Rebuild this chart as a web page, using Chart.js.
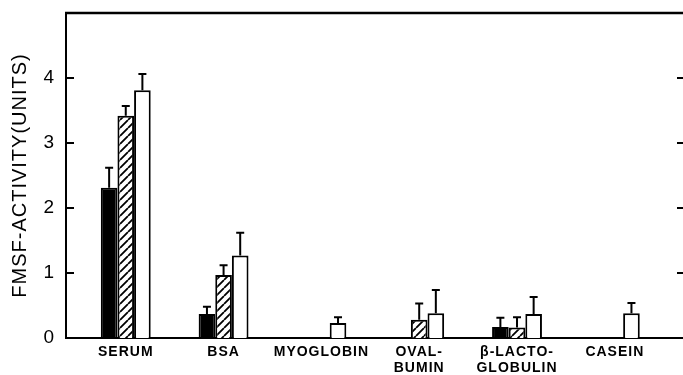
<!DOCTYPE html>
<html>
<head>
<meta charset="utf-8">
<script src="https://cdn.jsdelivr.net/npm/chart.js@4/dist/chart.umd.min.js"></script>
<style>
  html, body { margin: 0; padding: 0; background: #fff; }
  #wrap { width: 683px; height: 375px; }
</style>
</head>
<body>
<div id="wrap"><canvas id="grafico"></canvas></div>
<script>
const categorias = ['SERUM', 'BSA', 'MYOGLOBIN', ['OVAL-', 'BUMIN'], ['β-LACTO-', 'GLOBULIN'], 'CASEIN'];
const valoresPretos = [2.31, 0.37, null, null, 0.17, null];
const errosPretos = [0.31, 0.11, null, null, 0.14, null];
const valoresListrados = [3.42, 0.97, null, 0.28, 0.16, null];
const errosListrados = [0.15, 0.15, null, 0.25, 0.16, null];
const valoresBrancos = [3.81, 1.27, 0.23, 0.38, 0.37, 0.38];
const errosBrancos = [0.25, 0.35, 0.09, 0.36, 0.26, 0.16];
const ticksY = [0, 1, 2, 3, 4, 5];

// layout do eixo x (centro das categorias)
const xMin = -0.611;
const xMax = 5.697;

function hachura() {
    const s = 8;
    const c = document.createElement('canvas');
    c.width = s; c.height = s;
    const g = c.getContext('2d');
    g.fillStyle = '#fff';
    g.fillRect(0, 0, s, s);
    g.strokeStyle = '#000';
    g.lineWidth = 1.8;
    g.beginPath();
    [-s, 0, s].forEach(o => { g.moveTo(o, s); g.lineTo(o + s, 0); });
    g.stroke();
    return g.createPattern(c, 'repeat');
}

const pontos = arr => arr.map((v, i) => ({ x: i, y: v }));

const espacamento = {
    id: 'espacamento',
    beforeUpdate(chart) { chart.ctx.letterSpacing = '1px'; },
    beforeLayout(chart) { chart.ctx.letterSpacing = '1px'; },
    beforeDraw(chart) { chart.ctx.letterSpacing = '1px'; }
};

const barrasErro = {
    id: 'barrasErro',
    afterDatasetsDraw(chart) {
        const ctx = chart.ctx;
        const y = chart.scales.y;
        ctx.save();
        ctx.strokeStyle = '#000';
        ctx.lineWidth = 2;
        chart.data.datasets.forEach((ds, i) => {
            const meta = chart.getDatasetMeta(i);
            meta.data.forEach((bar, j) => {
                const v = ds.data[j].y;
                const e = ds.erros[j];
                if (v == null || e == null) return;
                const yTopo = y.getPixelForValue(v + e);
                ctx.beginPath();
                ctx.moveTo(bar.x, bar.y);
                ctx.lineTo(bar.x, yTopo);
                ctx.moveTo(bar.x - 4, yTopo);
                ctx.lineTo(bar.x + 4, yTopo);
                ctx.stroke();
            });
        });
        ctx.restore();
    }
};

// linha de cima e marcas internas dos dois lados
const moldura = {
    id: 'moldura',
    afterDraw(chart) {
        const { ctx, chartArea } = chart;
        const y = chart.scales.y;
        ctx.save();
        ctx.strokeStyle = '#000';
        ctx.lineWidth = 2.5;
        ctx.beginPath();
        ctx.moveTo(chartArea.left - 1, chartArea.top);
        ctx.lineTo(chartArea.right, chartArea.top);
        ctx.stroke();
        ctx.lineWidth = 2;
        ctx.beginPath();
        [1, 2, 3, 4].forEach(v => {
            const py = y.getPixelForValue(v);
            ctx.moveTo(chartArea.right - 6, py);
            ctx.lineTo(chartArea.right, py);
            ctx.moveTo(chartArea.left, py);
            ctx.lineTo(chartArea.left + 8, py);
        });
        ctx.stroke();
        ctx.restore();
    }
};

new Chart(document.getElementById('grafico'), {
    type: 'bar',
    data: {
        datasets: [
            { label: 'preto', data: pontos(valoresPretos), erros: errosPretos, backgroundColor: '#000', borderColor: '#000', borderWidth: 2 },
            { label: 'listrado', data: pontos(valoresListrados), erros: errosListrados, backgroundColor: hachura(), borderColor: '#000', borderWidth: 2 },
            { label: 'branco', data: pontos(valoresBrancos), erros: errosBrancos, backgroundColor: '#fff', borderColor: '#000', borderWidth: 2 }
        ]
    },
    options: {
        responsive: true, maintainAspectRatio: false, animation: false,
        layout: { padding: { top: 13, left: 0, right: 0, bottom: 0 } },
        datasets: { bar: { categoryPercentage: 0.51, barPercentage: 1 } },
        scales: {
            x: {
                type: 'linear', min: xMin, max: xMax, offset: false,
                grid: { display: false, drawTicks: false, offset: false },
                border: { display: true, color: '#000', width: 2 },
                ticks: {
                    stepSize: 1, includeBounds: false, autoSkip: false, maxRotation: 0, padding: 6,
                    color: '#000', font: { family: 'Liberation Sans', size: 14, weight: 'bold', lineHeight: 1.15 },
                    callback: v => categorias[v] ?? ''
                },
                afterFit: s => { s.height = 37; s.paddingLeft = 0; s.paddingRight = 0; }
            },
            y: {
                min: 0, max: 5,
                grid: { display: false, drawTicks: false },
                border: { display: true, color: '#000', width: 2 },
                afterBuildTicks: s => { s.ticks = ticksY.map(v => ({ value: v })); },
                ticks: {
                    padding: 11, color: '#000',
                    font: { family: 'Liberation Sans', size: 19 },
                    callback: v => v === 5 ? '' : v
                },
                title: {
                    display: true, text: 'FMSF-ACTIVITY(UNITS)', color: '#000',
                    font: { family: 'Liberation Sans', size: 20 },
                    padding: { top: 8, bottom: 0 }
                },
                afterFit: s => { s.width = 66; s.paddingTop = 0; s.paddingBottom = 0; }
            }
        },
        plugins: { legend: { display: false }, tooltip: { enabled: false } }
    },
    plugins: [espacamento, barrasErro, moldura]
});
</script>
</body>
</html>
